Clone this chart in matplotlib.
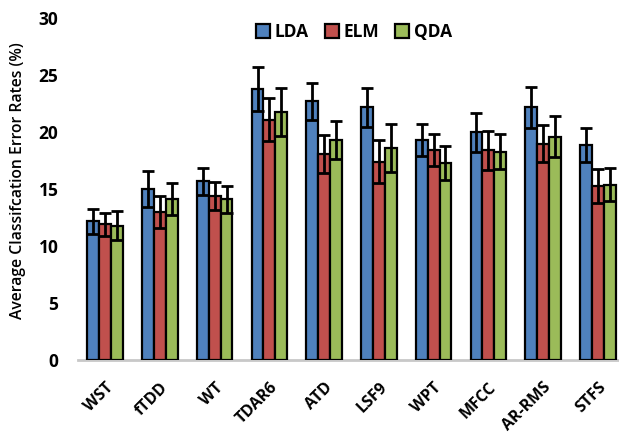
import numpy as np
import matplotlib.pyplot as plt

plt.rcParams['font.family'] = ['Open Sans', 'DejaVu Sans']

categories = ['WST', 'fTDD', 'WT', 'TDAR6', 'ATD', 'LSF9', 'WPT', 'MFCC', 'AR-RMS', 'STFS']
lda = [12.2, 15.0, 15.7, 23.8, 22.7, 22.2, 19.3, 20.0, 22.2, 18.9]
elm = [11.9, 13.0, 14.4, 21.1, 18.1, 17.4, 18.4, 18.4, 19.0, 15.3]
qda = [11.8, 14.1, 14.1, 21.8, 19.3, 18.6, 17.3, 18.3, 19.6, 15.4]
lda_err = [1.1, 1.55, 1.2, 1.9, 1.6, 1.7, 1.4, 1.7, 1.8, 1.5]
elm_err = [1.0, 1.4, 1.2, 1.9, 1.65, 1.9, 1.4, 1.7, 1.65, 1.5]
qda_err = [1.3, 1.4, 1.2, 2.1, 1.65, 2.1, 1.5, 1.55, 1.8, 1.45]

series = [('LDA', lda, lda_err, '#4F81BD'),
          ('ELM', elm, elm_err, '#C0504D'),
          ('QDA', qda, qda_err, '#9BBB59')]

fig = plt.figure(figsize=(6.19, 4.41), dpi=100)
ax = fig.add_axes([77.8 / 619, 81 / 441, 547.4 / 619, 341.7 / 441])

x = np.arange(len(categories))
w = 0.217
for i, (name, vals, errs, col) in enumerate(series):
    ax.bar(x + (i - 1) * w, vals, w, color=col, edgecolor='black', linewidth=1.6,
           label=name, zorder=2)
    ax.errorbar(x + (i - 1) * w, vals, yerr=errs, fmt='none', ecolor='black',
                elinewidth=2, capsize=4, capthick=2, zorder=3)

ax.set_xlim(-0.5, len(categories) - 0.5)
ax.set_ylim(0, 30)
ax.set_yticks(range(0, 31, 5))
ax.set_yticklabels([str(v) for v in range(0, 31, 5)], fontsize=12.5, fontweight='bold')
ax.set_xticks(x)
ax.set_xticklabels(categories, rotation=45, ha='right', rotation_mode='anchor',
                   fontsize=11.5, fontweight='bold')
ax.tick_params(axis='both', length=0)
ax.tick_params(axis='y', pad=14)
ax.tick_params(axis='x', pad=14)
for s in ['top', 'right', 'left']:
    ax.spines[s].set_visible(False)
ax.spines['bottom'].set_color('#C8C8C8')
ax.spines['bottom'].set_linewidth(2)
ax.spines['bottom'].set_zorder(1)

fig.text(18 / 619, 1 - 181 / 441, 'Average Classifcation Error Rates (%)', rotation=90,
         ha='center', va='center', fontsize=11.3, fontweight='semibold')

fig.legend(loc='center', bbox_to_anchor=(354 / 619, 1 - 32 / 441), ncol=3, frameon=False,
           prop={'size': 12.5, 'weight': 'bold'}, handlelength=0.8, handleheight=0.8,
           handletextpad=0.3, columnspacing=0.9)

fig.savefig('out.png', dpi=100)
